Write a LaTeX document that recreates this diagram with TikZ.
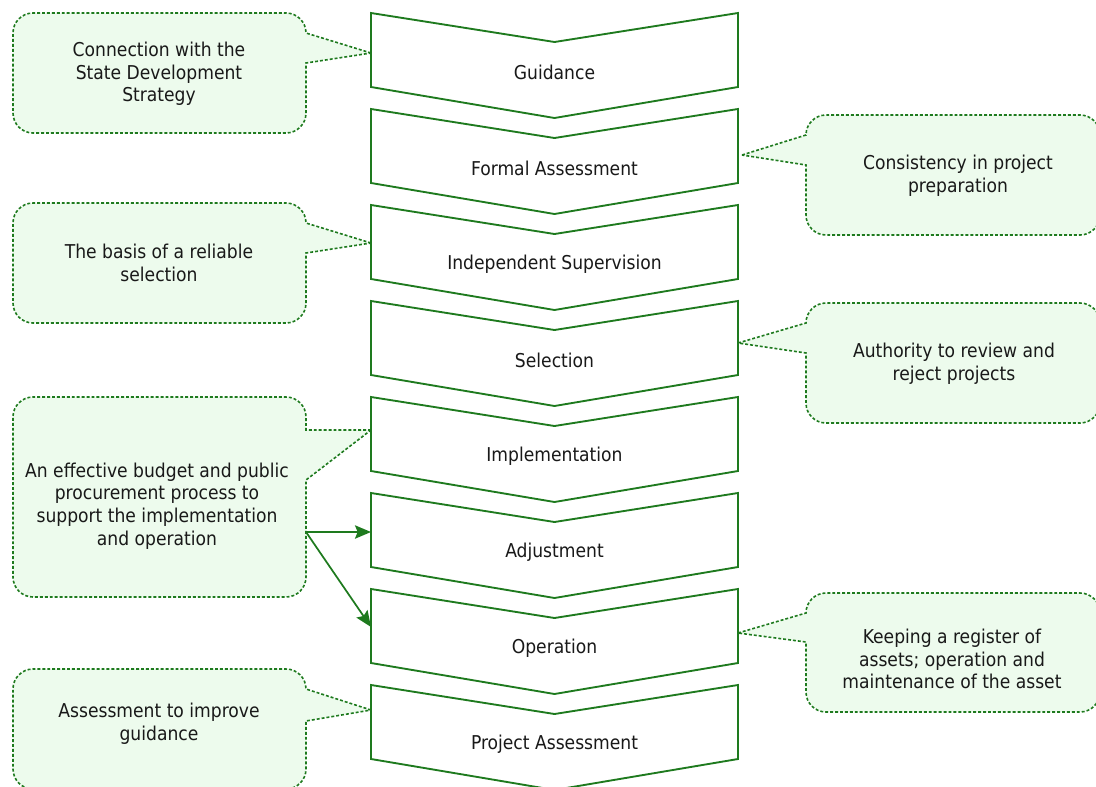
\documentclass[tikz,border=0pt]{standalone}
\usepackage{fontspec}
\setmainfont{DejaVu Sans Condensed}
\usetikzlibrary{arrows.meta}

\definecolor{chevgreen}{RGB}{30,122,30}
\definecolor{notefill}{RGB}{237,251,237}

\tikzset{
  chev/.style={draw=chevgreen, line width=1.4pt, fill=white},
  note/.style={draw=chevgreen, line width=1.2pt, fill=notefill, dash pattern=on 2.2pt off 1.5pt},
  lbl/.style={font=\fontsize{14.3}{17}\selectfont, align=center, text=black!90},
  flow/.style={draw=chevgreen, line width=1.3pt, -{Stealth[length=12pt,width=10pt,inset=2pt]}},
}

\begin{document}
\begin{tikzpicture}[x=0.75pt, y=0.75pt, yscale=-1]
    \useasboundingbox (0,0) rectangle (1096,786) ;

    % the chain of steps
    \draw [chev] (371,13) -- (554.5,42) -- (738,13) -- (738,87) -- (554.5,118) -- (371,87) -- cycle ;
    \node [lbl] (guidance) at (554.5,72) {Guidance} ;
    \draw [chev] (371,109) -- (554.5,138) -- (738,109) -- (738,183) -- (554.5,214) -- (371,183) -- cycle ;
    \node [lbl] (formal) at (554.5,168) {Formal Assessment} ;
    \draw [chev] (371,205) -- (554.5,234) -- (738,205) -- (738,279) -- (554.5,310) -- (371,279) -- cycle ;
    \node [lbl] (supervision) at (554.5,264) {Independent Supervision} ;
    \draw [chev] (371,301) -- (554.5,330) -- (738,301) -- (738,375) -- (554.5,406) -- (371,375) -- cycle ;
    \node [lbl] (selection) at (554.5,360) {Selection} ;
    \draw [chev] (371,397) -- (554.5,426) -- (738,397) -- (738,471) -- (554.5,502) -- (371,471) -- cycle ;
    \node [lbl] (implementation) at (554.5,456) {Implementation} ;
    \draw [chev] (371,493) -- (554.5,522) -- (738,493) -- (738,567) -- (554.5,598) -- (371,567) -- cycle ;
    \node [lbl] (adjustment) at (554.5,552) {Adjustment} ;
    \draw [chev] (371,589) -- (554.5,618) -- (738,589) -- (738,663) -- (554.5,694) -- (371,663) -- cycle ;
    \node [lbl] (operation) at (554.5,648) {Operation} ;
    \draw [chev] (371,685) -- (554.5,714) -- (738,685) -- (738,759) -- (554.5,790) -- (371,759) -- cycle ;
    \node [lbl] (passessment) at (554.5,744) {Project Assessment} ;

    % notes on the left
    \draw [note] (371,53) -- (306,33) [rounded corners=15pt] -- (306,13) -- (13,13) -- (13,133) -- (306,133) [sharp corners] -- (306,63) -- cycle ;
    \node [lbl] (note-strategy) at (159,74) {Connection with the\\State Development\\Strategy} ;
    \draw [note] (371,243) -- (306,223) [rounded corners=15pt] -- (306,203) -- (13,203) -- (13,323) -- (306,323) [sharp corners] -- (306,253) -- cycle ;
    \node [lbl] (note-basis) at (159,263) {The basis of a reliable\\selection} ;
    \draw [note] (371,430) -- (306,430) [rounded corners=15pt] -- (306,397) -- (13,397) -- (13,597) -- (306,597) [sharp corners] -- (306,480) -- cycle ;
    \node [lbl] (note-budget) at (157,506) {An effective budget and public\\procurement process to\\support the implementation\\and operation} ;
    \draw [note] (371,710) -- (306,689) [rounded corners=15pt] -- (306,669) -- (13,669) -- (13,789) -- (306,789) [sharp corners] -- (306,721) -- cycle ;
    \node [lbl] (note-improve) at (159,724) {Assessment to improve\\guidance} ;

    % notes on the right
    \draw [note] (742,155) -- (806,135) [rounded corners=15pt] -- (806,115) -- (1100,115) -- (1100,235) -- (806,235) [sharp corners] -- (806,165) -- cycle ;
    \node [lbl] (note-consistency) at (958,176) {Consistency in project\\preparation} ;
    \draw [note] (738,343) -- (806,323) [rounded corners=15pt] -- (806,303) -- (1100,303) -- (1100,423) -- (806,423) [sharp corners] -- (806,353) -- cycle ;
    \node [lbl] (note-authority) at (954,364) {Authority to review and\\reject projects} ;
    \draw [note] (738,633) -- (806,613) [rounded corners=15pt] -- (806,593) -- (1100,593) -- (1100,712) -- (806,712) [sharp corners] -- (806,642) -- cycle ;
    \node [lbl] (note-register) at (952,659) {Keeping a register of\\assets; operation and\\maintenance of the asset} ;

    % arrows out of the budget note
    \coordinate (budget-out) at (306,532) ;
    \coordinate (adjustment-in) at (371,532) ;
    \coordinate (operation-in) at (371,627) ;
    \draw [flow] (budget-out) -- (adjustment-in) ;
    \draw [flow] (budget-out) -- (operation-in) ;
\end{tikzpicture}
\end{document}
